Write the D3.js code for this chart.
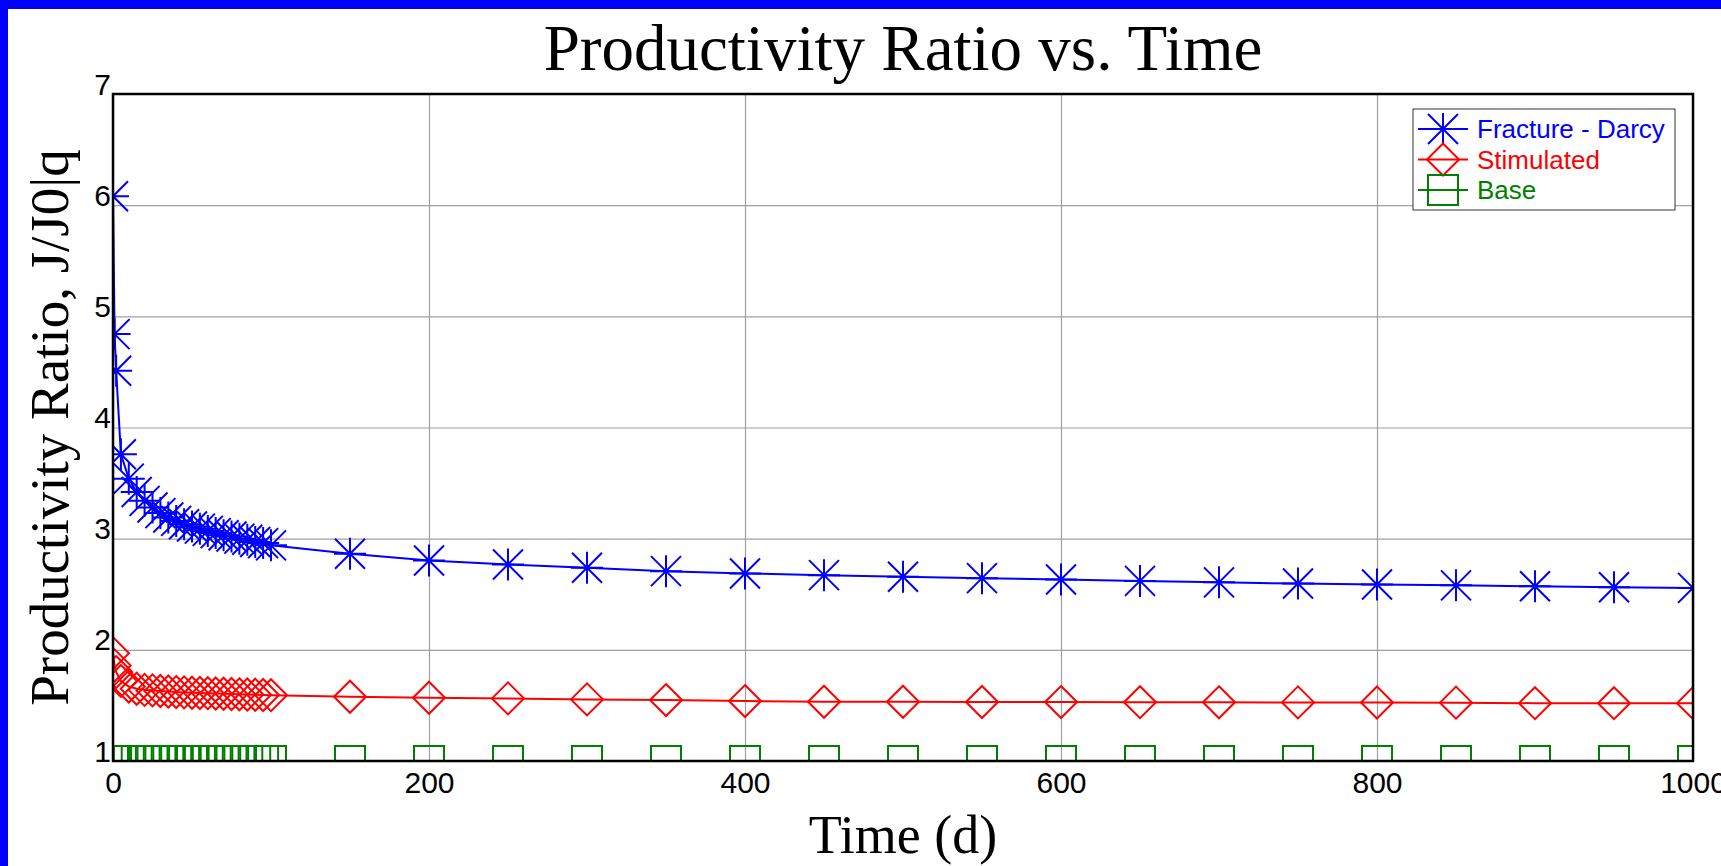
<!DOCTYPE html>
<html>
<head>
<meta charset="utf-8">
<script src="https://cdn.jsdelivr.net/npm/d3@7"></script>
<style>
  body { margin: 0; background: #fff; }
  svg { display: block; }
</style>
</head>
<body>
<div id="chart"></div>
<script>
const TIME = [0, 1, 2, 5, 10, 15, 20, 25, 30, 35, 40, 45, 50, 55, 60, 65, 70, 75, 80, 85, 90, 95, 100,
  150, 200, 250, 300, 350, 400, 450, 500, 550, 600, 650, 700, 750, 800, 850, 900, 950, 1000]

const FRACTURE = [6.08, 4.84, 4.51, 3.76, 3.54, 3.42, 3.34, 3.28, 3.23, 3.19, 3.16, 3.13, 3.11, 3.09, 3.07, 3.05, 3.03, 3.02, 3.00, 2.99, 2.97, 2.96, 2.94,
  2.864, 2.804, 2.768, 2.738, 2.708, 2.687, 2.672, 2.657, 2.645, 2.633, 2.62, 2.607, 2.596, 2.587, 2.58, 2.572, 2.563, 2.557]

const STIMULATED = [1.97, 1.86, 1.80, 1.72, 1.67, 1.65, 1.64, 1.635, 1.63, 1.625, 1.62, 1.617, 1.614, 1.612, 1.61, 1.607, 1.605, 1.603, 1.60, 1.598, 1.596, 1.594, 1.592,
  1.578, 1.569, 1.563, 1.554, 1.548, 1.539, 1.533, 1.533, 1.531, 1.530, 1.529, 1.528, 1.527, 1.526, 1.525, 1.52, 1.52, 1.52]

const BASE = [1, 1, 1, 1, 1, 1, 1, 1, 1, 1, 1, 1, 1, 1, 1, 1, 1, 1, 1, 1, 1, 1, 1,
  1, 1, 1, 1, 1, 1, 1, 1, 1, 1, 1, 1, 1, 1, 1, 1, 1, 1]

const SERIES_NAMES = ['Fracture - Darcy', 'Stimulated', 'Base']
const X_TICKS = [0, 200, 400, 600, 800, 1000]
const Y_TICKS = [1, 2, 3, 4, 5, 6, 7]

const W = 1721, H = 866
const MARGIN = { TOP: 94, LEFT: 113, RIGHT: 28, BOTTOM: 105 }
const WIDTH = W - MARGIN.LEFT - MARGIN.RIGHT
const HEIGHT = H - MARGIN.TOP - MARGIN.BOTTOM

const SANS = '"Liberation Sans", Arial, sans-serif'
const SERIF = '"Liberation Serif", "Times New Roman", serif'

const series = [
  { name: SERIES_NAMES[0], values: FRACTURE, color: '#0000ff', marker: 'star' },
  { name: SERIES_NAMES[1], values: STIMULATED, color: '#ff0000', marker: 'diamond' },
  { name: SERIES_NAMES[2], values: BASE, color: '#008000', marker: 'square' }
]

// marker shapes, centred on 0,0
const markerPath = (type) => {
  if (type === 'star') {
    return 'M0,-16V16M-16,0H16M-15,-15L15,15M-15,15L15,-15'
  } else if (type === 'diamond') {
    return 'M0,-16L16,0L0,16L-16,0Z'
  }
  return 'M-15,-15H15V15H-15Z'
}

const svg = d3.select('#chart').append('svg')
  .attr('width', W)
  .attr('height', H)

// blue window frame on the left and top
svg.append('rect').attr('x', 0).attr('y', 0).attr('width', 8).attr('height', H).attr('fill', '#0000ff')
svg.append('rect').attr('x', 0).attr('y', 0).attr('width', W).attr('height', 9).attr('fill', '#0000ff')

svg.append('defs').append('clipPath').attr('id', 'plot-clip')
  .append('rect').attr('width', WIDTH).attr('height', HEIGHT)

const g = svg.append('g')
  .attr('transform', `translate(${MARGIN.LEFT}, ${MARGIN.TOP})`)

const x = d3.scaleLinear().domain([0, 1000]).range([0, WIDTH])
const y = d3.scaleLinear().domain([1, 7]).range([HEIGHT, 0])

// grid
const xGrid = g.append('g')
  .attr('transform', `translate(0, ${HEIGHT})`)
  .call(d3.axisBottom(x).tickValues(X_TICKS).tickSize(-HEIGHT).tickFormat(''))
const yGrid = g.append('g')
  .call(d3.axisLeft(y).tickValues(Y_TICKS).tickSize(-WIDTH).tickFormat(''))
for (const grid of [xGrid, yGrid]) {
  grid.select('.domain').remove()
  grid.selectAll('line').attr('stroke', '#a0a0a0').attr('stroke-width', 1.2)
}

// tick labels
const xAxis = g.append('g')
  .attr('transform', `translate(0, ${HEIGHT})`)
  .call(d3.axisBottom(x).tickValues(X_TICKS).tickSize(0).tickFormat(d3.format('d')))
xAxis.select('.domain').remove()
xAxis.selectAll('text')
  .attr('y', 32).attr('dy', 0)
  .style('font-family', SANS).style('font-size', '30px').attr('fill', '#000')

const yAxis = g.append('g')
  .call(d3.axisLeft(y).tickValues(Y_TICKS).tickSize(0).tickFormat(d3.format('d')))
yAxis.select('.domain').remove()
yAxis.selectAll('text')
  .attr('x', -2).attr('dy', 0)
  .style('font-family', SANS).style('font-size', '30px').attr('fill', '#000')

// series
const plot = g.append('g').attr('clip-path', 'url(#plot-clip)')
const line = d3.line()
  .x((d, i) => x(TIME[i]))
  .y(d => y(d))

series.forEach(s => {
  plot.append('path')
    .datum(s.values)
    .attr('d', line)
    .attr('fill', 'none')
    .attr('stroke', s.color)
    .attr('stroke-width', 2)

  plot.selectAll(null)
    .data(s.values)
    .enter()
    .append('path')
      .attr('transform', (d, i) => `translate(${x(TIME[i])}, ${y(d)})`)
      .attr('d', markerPath(s.marker))
      .attr('fill', 'none')
      .attr('stroke', s.color)
      .attr('stroke-width', 2)
})

// plot frame
g.append('rect')
  .attr('width', WIDTH)
  .attr('height', HEIGHT)
  .attr('fill', 'none')
  .attr('stroke', '#000')
  .attr('stroke-width', 2.5)

// legend
const legend = svg.append('g').attr('transform', 'translate(1413, 109)')
legend.append('rect')
  .attr('width', 262)
  .attr('height', 101)
  .attr('fill', '#fff')
  .attr('stroke', '#333')
  .attr('stroke-width', 1)

const rows = legend.selectAll('g.row')
  .data(series)
  .enter()
  .append('g')
    .attr('class', 'row')
    .attr('transform', (d, i) => `translate(30, ${20 + i * 30.5})`)

rows.append('line')
  .attr('x1', -25).attr('x2', 25)
  .attr('stroke', d => d.color)
  .attr('stroke-width', 2)
rows.append('path')
  .attr('d', d => markerPath(d.marker))
  .attr('fill', 'none')
  .attr('stroke', d => d.color)
  .attr('stroke-width', 2)
rows.append('text')
  .attr('x', 34)
  .attr('y', 9)
  .style('font-family', SANS)
  .style('font-size', '26px')
  .attr('fill', d => d.color)
  .text(d => d.name)

// titles
svg.append('text')
  .attr('x', MARGIN.LEFT + WIDTH / 2)
  .attr('y', 70)
  .attr('text-anchor', 'middle')
  .style('font-family', SERIF)
  .style('font-size', '65px')
  .text('Productivity Ratio vs. Time')

svg.append('text')
  .attr('x', MARGIN.LEFT + WIDTH / 2)
  .attr('y', 853)
  .attr('text-anchor', 'middle')
  .style('font-family', SERIF)
  .style('font-size', '54px')
  .text('Time (d)')

svg.append('text')
  .attr('transform', `translate(68, ${MARGIN.TOP + HEIGHT / 2}) rotate(-90)`)
  .attr('text-anchor', 'middle')
  .style('font-family', SERIF)
  .style('font-size', '55px')
  .text('Productivity Ratio, J/J0|q')
</script>
</body>
</html>
